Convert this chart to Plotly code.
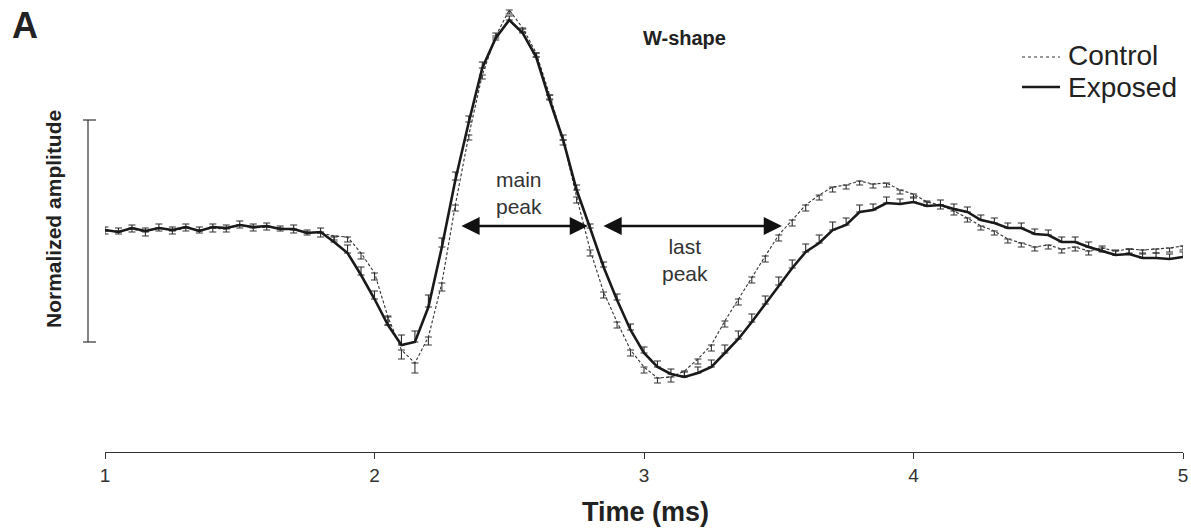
import plotly.graph_objects as go

FONT = "Liberation Sans, Arial, sans-serif"

# ---------------- data (amplitude in normalized units; scale bar = 222 units) -------------
time_ms = [1.00, 1.05, 1.10, 1.15, 1.20, 1.25, 1.30, 1.35, 1.40, 1.45, 1.50, 1.55, 1.60, 1.65,
           1.70, 1.75, 1.80, 1.85, 1.90, 1.95, 2.00, 2.05, 2.10, 2.15, 2.20, 2.25, 2.30, 2.35,
           2.40, 2.45, 2.50, 2.55, 2.60, 2.65, 2.70, 2.75, 2.80, 2.85, 2.90, 2.95, 3.00, 3.05,
           3.10, 3.15, 3.20, 3.25, 3.30, 3.35, 3.40, 3.45, 3.50, 3.55, 3.60, 3.65, 3.70, 3.75,
           3.80, 3.85, 3.90, 3.95, 4.00, 4.05, 4.10, 4.15, 4.20, 4.25, 4.30, 4.35, 4.40, 4.45,
           4.50, 4.55, 4.60, 4.65, 4.70, 4.75, 4.80, 4.85, 4.90, 4.95, 5.00]

exposed = [0, -2, 2, -1, 2, 0, 3, -1, 3, 2, 5, 3, 4, 1, 1, -3, -2,
           -12, -23, -45, -69, -95, -115, -112, -77, -17, 50, 108, 162, 192, 210, 197, 173, 130, 90, 40, 2,
           -37, -70, -100, -123, -137, -144, -147, -143, -137, -123, -109, -92, -74, -55, -38, -22, -13, 0, 5, 18,
           20, 27, 26, 28, 24, 25, 21, 18, 10, 7, 2, 2, -4, -5, -12, -12, -17, -21, -25, -24,
           -28, -28, -29, -27]

exposed_err = [3, 4, 3, 3, 4, 3, 3, 4, 3, 3, 4, 3, 3, 3, 4, 3, 4,
               5, 8, 8, 8, 9, 10, 11, 12, 9, 8, 6, 6, 5, 4, 4, 4, 5, 5, 5, 4,
               5, 6, 6, 6, 6, 5, 5, 6, 7, 8, 8, 8, 8, 8, 8, 8, 8, 8, 7, 7,
               6, 6, 5, 5, 5, 5, 5, 5, 5, 5, 5, 5, 5, 5, 5, 5, 5, 5, 5, 5,
               5, 5, 5, 5]

control = [-1, -1, 1, -2, 2, -1, 2, 0, 2, 1, 5, 2, 3, 2, 0, -2, -3,
           -6, -7, -23, -43, -87, -120, -133, -107, -53, 25, 95, 155, 194, 220, 202, 177, 135, 90, 33, -20,
           -62, -92, -120, -137, -148, -147, -141, -129, -115, -91, -69, -47, -26, -5, 10, 25, 35, 43, 45, 49,
           46, 47, 40, 36, 28, 25, 19, 12, 4, -1, -9, -13, -17, -15, -19, -17, -21, -18, -21, -19,
           -20, -19, -18, -16]

control_err = [3, 3, 3, 4, 3, 3, 3, 3, 4, 3, 3, 3, 3, 3, 3, 3, 4,
               4, 5, 6, 7, 8, 9, 10, 8, 8, 6, 5, 4, 4, 4, 4, 4, 4, 5, 6, 6,
               6, 6, 6, 6, 5, 5, 5, 5, 6, 6, 6, 6, 6, 6, 6, 6, 5, 5, 4, 4,
               4, 4, 4, 4, 4, 4, 4, 4, 4, 4, 4, 4, 4, 4, 4, 4, 4, 4, 4, 4,
               4, 4, 4, 4]

x_ticks = [1, 2, 3, 4, 5]
series_names = ["Control", "Exposed"]
scale_bar = [110, -112]          # normalized amplitude span of the scale bar
main_peak_span = [2.317, 2.792]  # ms
last_peak_span = [2.844, 3.512]  # ms
arrow_level = 4

# ---------------- layout geometry ----------------
W, H = 1191, 529
L, R, T, B = 105, 8, 0, 77
PW, PH = W - L - R, H - T - B
Y_RANGE = [-222, 230]


def px(x, y):
    return (x - L) / PW, (H - B - y) / PH


fig = go.Figure()

fig.add_trace(go.Scatter(
    x=time_ms, y=control, mode="lines", name=series_names[0], showlegend=False,
    line=dict(color="#333333", width=1.1, dash="3px,2px"),
    error_y=dict(type="data", symmetric=False, array=[0] * len(control),
                 arrayminus=control_err, color="#333333", thickness=1.1, width=3.5),
))
fig.add_trace(go.Scatter(
    x=time_ms, y=exposed, mode="lines", name=series_names[1], showlegend=False,
    line=dict(color="#1a1a1a", width=2.6),
    error_y=dict(type="data", symmetric=False, array=exposed_err,
                 arrayminus=[0] * len(exposed), color="#2a2a2a", thickness=1.1, width=3.5),
))

ann = []


def text(x, y, s, size, bold=False, color="#222222", angle=0, xanchor="center"):
    xp, yp = px(x, y)
    ann.append(dict(x=xp, y=yp, xref="paper", yref="paper", text=f"<b>{s}</b>" if bold else s,
                    showarrow=False, xanchor=xanchor, yanchor="middle", textangle=angle,
                    font=dict(family=FONT, size=size, color=color)))


text(25, 26, "A", 36, bold=True)
text(684, 38, "W-shape", 20, bold=True)
text(53, 219, "Normalized amplitude", 21, bold=True, angle=-90)
text(645, 512, "Time (ms)", 27, bold=True)
text(519, 193, "main<br>peak", 21, color="#333333")
text(685, 260, "last<br>peak", 21, color="#333333")
text(1066, 56, series_names[0], 28, xanchor="left")
text(1066, 88, series_names[1], 28, xanchor="left")

for span in (main_peak_span, last_peak_span):
    ann.append(dict(x=span[1], y=arrow_level, ax=span[0], ay=arrow_level,
                    xref="x", yref="y", axref="x", ayref="y", text="",
                    showarrow=True, arrowside="end+start", arrowhead=2, startarrowhead=2,
                    arrowsize=1.4, startarrowsize=1.4, arrowwidth=2.6, arrowcolor="#111111",
                    standoff=0, startstandoff=0))

shapes = []
# legend samples
x0, y0 = px(1022, 57); x1, _ = px(1060, 57)
shapes.append(dict(type="line", xref="paper", yref="paper", x0=x0, x1=x1, y0=y0, y1=y0,
                   line=dict(color="#333333", width=1, dash="dot")))
x0, y0 = px(1022, 87); x1, _ = px(1060, 87)
shapes.append(dict(type="line", xref="paper", yref="paper", x0=x0, x1=x1, y0=y0, y1=y0,
                   line=dict(color="#1a1a1a", width=2.6)))

# amplitude scale bar
def vpix(v):
    return T + (Y_RANGE[1] - v) / (Y_RANGE[1] - Y_RANGE[0]) * PH

yt, yb = vpix(scale_bar[0]), vpix(scale_bar[1])
xa, ya = px(88, yt); _, yb_p = px(88, yb)
shapes.append(dict(type="line", xref="paper", yref="paper", x0=xa, x1=xa, y0=ya, y1=yb_p,
                   line=dict(color="#333333", width=1.2)))
for yy in (ya, yb_p):
    c0, _ = px(83, 0); c1, _ = px(96, 0)
    shapes.append(dict(type="line", xref="paper", yref="paper", x0=c0, x1=c1, y0=yy, y1=yy,
                       line=dict(color="#333333", width=1.2)))

fig.update_layout(
    width=W, height=H, margin=dict(l=L, r=R, t=T, b=B),
    paper_bgcolor="white", plot_bgcolor="white",
    font=dict(family=FONT, color="#333333"),
    annotations=ann, shapes=shapes, showlegend=False,
    xaxis=dict(range=[1, 5], tickvals=x_ticks, ticktext=[str(v) for v in x_ticks],
               showline=True, linecolor="#333333", linewidth=1.3, ticks="outside",
               ticklen=6, tickcolor="#333333", tickwidth=1, showgrid=False, zeroline=False,
               tickfont=dict(family=FONT, size=19, color="#333333")),
    yaxis=dict(range=Y_RANGE, visible=False, showgrid=False, zeroline=False),
)

fig.write_html("out.html")
